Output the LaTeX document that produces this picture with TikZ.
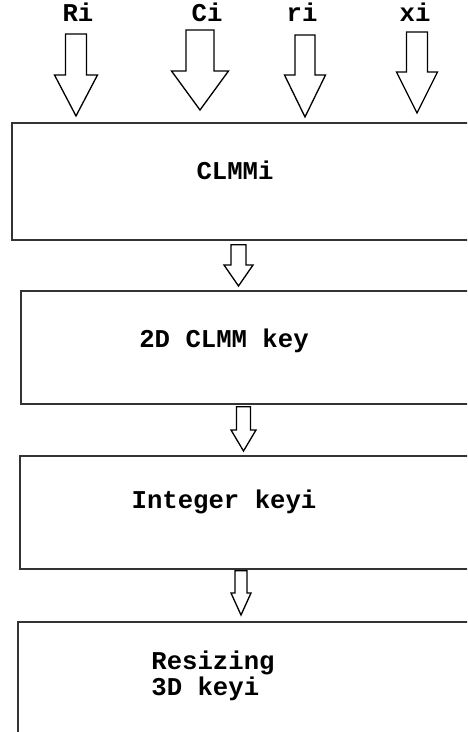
\documentclass[tikz,border=0pt]{standalone}
\usepackage{fontspec}
\setmonofont{Liberation Mono}
\usetikzlibrary{calc,positioning}

\tikzset{
  stagebox/.style={draw=black!80,line width=1pt,rectangle,minimum width=9.6cm,inner sep=0pt,anchor=north west},
  stagetext/.style={font=\ttfamily\bfseries\fontsize{14.6}{13.6}\selectfont,inner sep=0pt,align=left},
  inlabel/.style={font=\ttfamily\bfseries\fontsize{14.6}{14}\selectfont,inner sep=0pt,anchor=base},
  hollow/.style={draw=black,line width=0.75pt,fill=white,line join=miter}
}
% hollow block arrow: #1 tail, #2 tip, #3 half shaft, #4 half head, #5 head length
\newcommand{\hollowarrow}[5]{%
  \draw[hollow] ($(#1)+(-#3,0)$) -- ($(#2)+(-#3,-#5)$) -- ($(#2)+(-#4,-#5)$) -- (#2)
    -- ($(#2)+(#4,-#5)$) -- ($(#2)+(#3,-#5)$) -- ($(#1)+(#3,0)$) -- cycle;}

\begin{document}
\begin{tikzpicture}[x=0.02cm,y=-0.02cm]
\clip (0,0) rectangle (467,732);
\useasboundingbox (0,0) rectangle (467,732);

% inputs
\node[inlabel] (Ri) at (78,22) {Ri};
\node[inlabel] (Ci) at (207,22) {Ci};
\node[inlabel] (ri) at (302,22) {ri};
\node[inlabel] (xi) at (415,22) {xi};

% stages
\node[stagebox,minimum height=2.34cm] (clmm) at (11,122) {};
\node[stagebox,minimum height=2.26cm] (key2d) at (20,290) {};
\node[stagebox,minimum height=2.26cm] (intkey) at (19,455) {};
\node[stagebox,minimum height=2.8cm] (resize) at (17,621) {};

\node[stagetext,anchor=base] (tclmm) at (235,180) {CLMMi};
\node[stagetext,anchor=base] (tkey2d) at (224,348) {2D CLMM key};
\node[stagetext,anchor=base] (tintkey) at (224,508) {Integer keyi};
\node[stagetext] (tresize) at (213,676) {Resizing\\3D keyi};

% input arrows
\coordinate (RiA) at (76,34);
\coordinate (RiB) at ($(76,0 |- clmm.north)+(0,-6)$);
\hollowarrow{RiA}{RiB}{10.5}{21.5}{41}
\coordinate (CiA) at (200,30);
\coordinate (CiB) at ($(200,0 |- clmm.north)+(0,-12)$);
\hollowarrow{CiA}{CiB}{14}{28.5}{39}
\coordinate (riA) at (305,35);
\coordinate (riB) at ($(305,0 |- clmm.north)+(0,-5)$);
\hollowarrow{riA}{riB}{10}{20.5}{42}
\coordinate (xiA) at (417,32);
\coordinate (xiB) at ($(417,0 |- clmm.north)+(0,-9)$);
\hollowarrow{xiA}{xiB}{10.5}{20.5}{41}

% stage arrows
\coordinate (s1A) at ($(238.5,0 |- clmm.south)+(0,4)$);
\coordinate (s1B) at ($(238.5,0 |- key2d.north)+(0,-4)$);
\hollowarrow{s1A}{s1B}{7.5}{14.5}{21}
\coordinate (s2A) at ($(243.5,0 |- key2d.south)+(0,2)$);
\coordinate (s2B) at ($(243.5,0 |- intkey.north)+(0,-4)$);
\hollowarrow{s2A}{s2B}{7}{12.5}{21}
\coordinate (s3A) at ($(241,0 |- intkey.south)+(0,1)$);
\coordinate (s3B) at ($(241,0 |- resize.north)+(0,-6)$);
\hollowarrow{s3A}{s3B}{6}{10}{22}
\end{tikzpicture}
\end{document}
